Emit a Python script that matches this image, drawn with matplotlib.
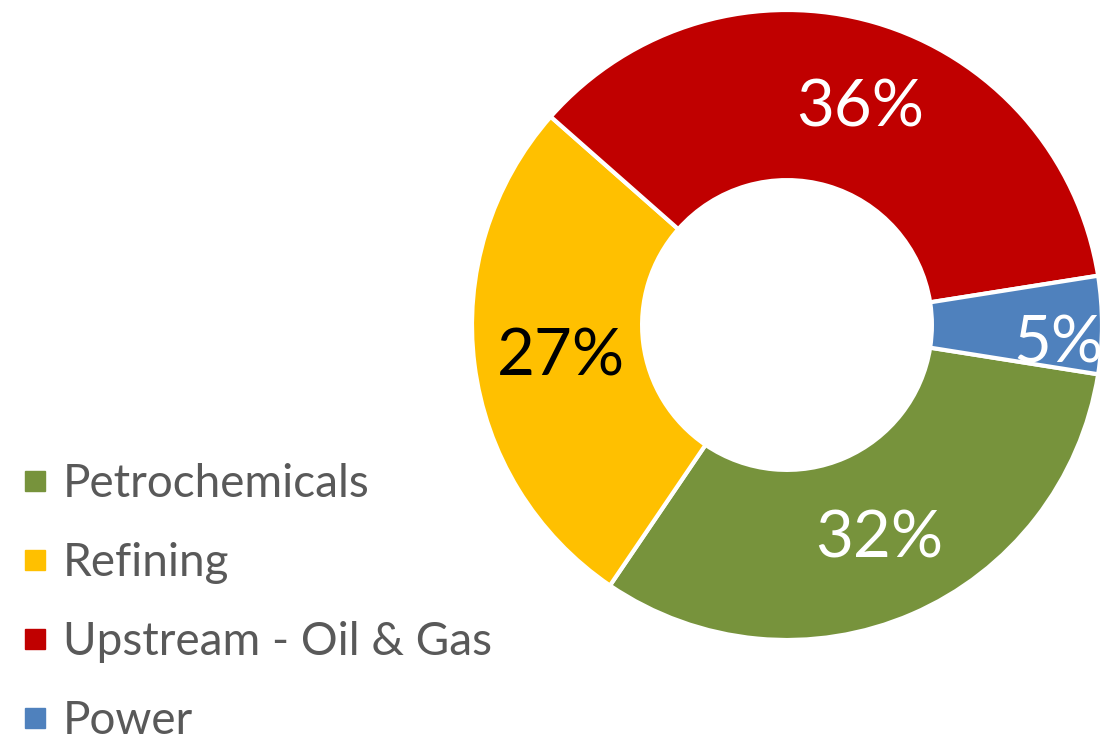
import numpy as np
import matplotlib
matplotlib.use("Agg")
import matplotlib.pyplot as plt
from matplotlib.lines import Line2D

categories = ["Petrochemicals", "Refining", "Upstream - Oil & Gas", "Power"]
values = [32, 27, 36, 5]
pct_labels = ["32%", "27%", "36%", "5%"]
colors = ["#77933C", "#FFC000", "#C00000", "#4F81BD"]
label_colors = ["white", "black", "white", "white"]
label_radius = [0.74, 0.725, 0.727, 0.865]
label_angle_offset = [0.0, 0.8, -2.4, -4.0]

plt.rcParams['font.family'] = ['Lato', 'DejaVu Sans']

fig = plt.figure(figsize=(11.2, 7.38), dpi=100)
cx, cy, R = 787, 738 - 325, 315
ax = fig.add_axes([(cx - R) / 1120, (cy - R) / 738, 2 * R / 1120, 2 * R / 738])
wedges, _ = ax.pie(values, colors=colors, startangle=-9, counterclock=False,
                   radius=1.0, wedgeprops=dict(width=0.54, edgecolor="white", linewidth=3))
ax.set_xlim(-1, 1)
ax.set_ylim(-1, 1)
ax.set_aspect("equal")
ax.axis("off")

for w, lab, col, r, off in zip(wedges, pct_labels, label_colors, label_radius, label_angle_offset):
    ang = np.deg2rad((w.theta1 + w.theta2) / 2 + off)
    ax.text(r * np.cos(ang), r * np.sin(ang), lab, color=col, fontsize=47,
            ha="center", va="center")

handles = [Line2D([], [], marker="s", linestyle="none", markersize=14.5,
                  markerfacecolor=c, markeredgecolor=c) for c in colors]
leg = fig.legend(handles, categories, loc="upper left", bbox_to_anchor=(0.0101, 0.3916),
                 frameon=False, fontsize=33, labelcolor="#595959",
                 handlelength=0.44, handletextpad=0.39, labelspacing=0.81,
                 borderaxespad=0, borderpad=0.3)

fig.savefig("out.png", dpi=100)
